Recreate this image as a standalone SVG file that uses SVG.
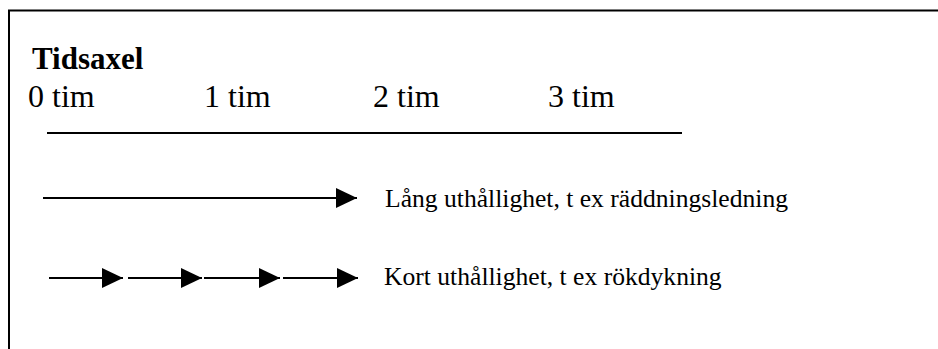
<svg xmlns="http://www.w3.org/2000/svg" width="938" height="349" viewBox="0 0 938 349">
<style>
.t{font-family:"Liberation Serif","Times New Roman",serif;fill:#000}
.ln{stroke:#000;stroke-width:2;fill:none}
</style>
<defs>
<marker id="ah" markerUnits="userSpaceOnUse" markerWidth="21" markerHeight="20" refX="21" refY="10" orient="auto">
<path d="M0,0 L21,10 L0,20 Z" fill="#000"/>
</marker>
</defs>
<rect width="938" height="349" fill="#fff"/>
<g id="frame">
<path class="ln" d="M9,349 V10.5 H938"/>
</g>
<g id="title"><text class="t" x="32" y="69" font-size="31" font-weight="bold">Tidsaxel</text></g>
<g id="timeline">
<text class="t" x="28" y="107" font-size="32">0 tim</text>
<text class="t" x="204" y="107" font-size="32">1 tim</text>
<text class="t" x="373" y="107" font-size="32">2 tim</text>
<text class="t" x="548" y="107" font-size="32">3 tim</text>
<line class="ln" x1="47" y1="133" x2="682" y2="133"/>
</g>
<g id="connectors">
<line class="ln" x1="43" y1="198" x2="357" y2="198" marker-end="url(#ah)"/>
<line class="ln" x1="49" y1="278" x2="123" y2="278" marker-end="url(#ah)"/>
<line class="ln" x1="128" y1="278" x2="202" y2="278" marker-end="url(#ah)"/>
<line class="ln" x1="204" y1="278" x2="280" y2="278" marker-end="url(#ah)"/>
<line class="ln" x1="283" y1="278" x2="358" y2="278" marker-end="url(#ah)"/>
</g>
<g id="label-long"><text class="t" x="385" y="207" font-size="25.6">Lång uthållighet, t ex räddningsledning</text></g>
<g id="label-short"><text class="t" x="384" y="285" font-size="25.6">Kort uthållighet, t ex rökdykning</text></g>
</svg>
